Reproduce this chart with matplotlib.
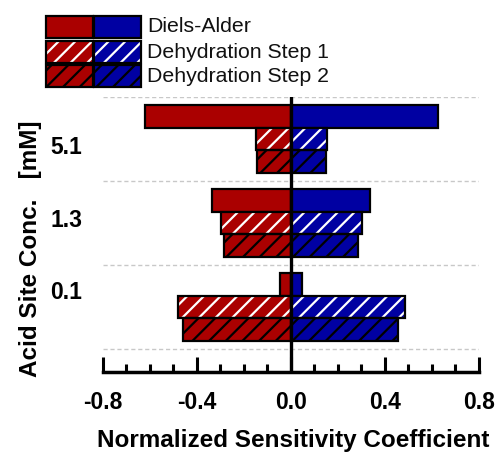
import matplotlib
matplotlib.use("Agg")
import matplotlib.pyplot as plt
from matplotlib.patches import Rectangle
import numpy as np

plt.rcParams['font.family'] = ['Liberation Sans', 'DejaVu Sans']
plt.rcParams['hatch.linewidth'] = 1.6

# ---- data ----
categories = ["0.1", "1.3", "5.1"]          # bottom to top
series = ["Diels-Alder", "Dehydration Step 1", "Dehydration Step 2"]
neg_da = [-0.047, -0.336, -0.621]
pos_da = [0.048, 0.336, 0.624]
neg_s1 = [-0.482, -0.298, -0.149]
pos_s1 = [0.485, 0.300, 0.155]
neg_s2 = [-0.458, -0.284, -0.143]
pos_s2 = [0.457, 0.286, 0.148]
xticks = [-0.8, -0.4, 0.0, 0.4, 0.8]
xtick_labels = ["-0.8", "-0.4", "0.0", "0.4", "0.8"]

RED = "#AA0000"
BLUE = "#0000A2"
W, H = 498, 455

fig = plt.figure(figsize=(W / 100, H / 100), dpi=100)
ax = fig.add_axes([103 / W, 1 - 372 / H, 376 / W, 275 / H])

y = np.arange(len(categories))
bh = 0.27
offsets = [bh, 0.0, -bh]
neg = [neg_da, neg_s1, neg_s2]
pos = [pos_da, pos_s1, pos_s2]
hatches = [None, "//", "//"]
hcolors = [None, "white", "black"]

for k in range(3):
    yy = y + offsets[k]
    for vals, col in ((neg[k], RED), (pos[k], BLUE)):
        if hatches[k] is None:
            ax.barh(yy, vals, height=bh, color=col, edgecolor="black",
                    linewidth=1.6, zorder=3)
        else:
            ax.barh(yy, vals, height=bh, color=col, edgecolor=hcolors[k],
                    hatch=hatches[k], linewidth=0, zorder=3)
            ax.barh(yy, vals, height=bh, fill=False, edgecolor="black",
                    linewidth=1.6, zorder=4)

# separators
for s in [-0.5, 0.5, 1.5, 2.5]:
    ax.axhline(s, color="#c8c8c8", lw=1.0, ls=(0, (3, 2)), zorder=1)
ax.axvline(0, color="black", lw=2.4, zorder=6)

ax.set_xlim(-0.8, 0.8)
ax.set_ylim(-0.774, 2.5)

for side in ["left", "right", "top"]:
    ax.spines[side].set_visible(False)
ax.spines["bottom"].set_linewidth(2.5)

ax.set_xticks(xticks)
ax.set_xticklabels(xtick_labels, fontsize=16.5, fontweight="bold")
ax.set_xticks(np.arange(-0.8, 0.81, 0.1), minor=True)
ax.tick_params(axis="x", which="major", direction="in", length=11, width=2.2, pad=14)
ax.tick_params(axis="x", which="minor", direction="in", length=5.5, width=2.2)

label_pos = [0.202, 1.06, 1.929]
ax.set_yticks(label_pos)
ax.set_yticklabels(categories, fontsize=16.5, fontweight="bold")
ax.tick_params(axis="y", length=0, pad=15)

ax.set_xlabel("Normalized Sensitivity Coefficient", fontsize=17.5, fontweight="bold")
ax.xaxis.set_label_coords((293.5 - 103) / 376, (372 - 441) / 275)
ax.xaxis.label.set_va("center")

fig.text(30 / W, 1 - 249 / H, "Acid Site Conc.   [mM]", rotation=90,
         ha="center", va="center", fontsize=17.5, fontweight="bold")

# legend (manual)
rows = [(16, 38), (41, 63), (65, 87)]
for k in range(3):
    y0, y1 = rows[k]
    for (x0, x1), col in (((46, 93), RED), ((94, 141), BLUE)):
        kw = dict(transform=fig.transFigure, facecolor=col)
        if hatches[k] is None:
            r = Rectangle((x0 / W, 1 - y1 / H), (x1 - x0) / W, (y1 - y0) / H,
                          edgecolor="black", linewidth=1.6, **kw)
            fig.add_artist(r)
        else:
            r = Rectangle((x0 / W, 1 - y1 / H), (x1 - x0) / W, (y1 - y0) / H,
                          edgecolor=hcolors[k], hatch=hatches[k], linewidth=0, **kw)
            fig.add_artist(r)
            r2 = Rectangle((x0 / W, 1 - y1 / H), (x1 - x0) / W, (y1 - y0) / H,
                           transform=fig.transFigure, fill=False,
                           edgecolor="black", linewidth=1.6)
            fig.add_artist(r2)
    fig.text(147 / W, 1 - ((y0 + y1) / 2) / H, series[k], fontsize=15.3,
             ha="left", va="center", color="#111111")

fig.savefig("out.png", dpi=100)
